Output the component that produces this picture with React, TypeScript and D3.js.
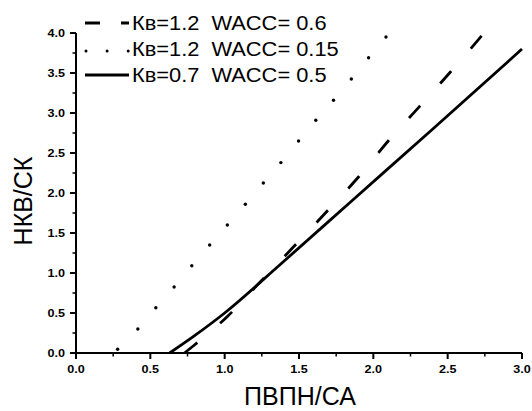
import React from 'react';
import * as d3 from 'd3';

const xTicks = [0, 0.5, 1.0, 1.5, 2.0, 2.5, 3.0];
const yTicks = [0, 0.5, 1.0, 1.5, 2.0, 2.5, 3.0, 3.5, 4.0];

const dashedX = [0.73, 0.78, 1.02, 1.23, 1.47, 1.69, 1.9, 2.1, 2.31, 2.52, 2.745];
const dashedY = [0.0, 0.075, 0.46, 0.87, 1.34, 1.775, 2.2, 2.65, 3.08, 3.515, 4.0];

const solidX = [0.63, 0.8, 1.0, 1.37, 1.86, 2.4, 3.0];
const solidY = [0.0, 0.22, 0.5, 1.1, 1.91, 2.8, 3.8];

const dottedX = [0.28, 0.416, 0.537, 0.66, 0.779, 0.899, 1.018, 1.139, 1.26, 1.378, 1.497, 1.613, 1.732, 1.852, 1.968, 2.085];
const dottedY = [0.046, 0.3, 0.566, 0.825, 1.09, 1.35, 1.6, 1.86, 2.125, 2.38, 2.65, 2.91, 3.16, 3.425, 3.69, 3.95];

const legendLabels = ['Кв=1.2  WACC= 0.6', 'Кв=1.2  WACC= 0.15', 'Кв=0.7  WACC= 0.5'];
const xTitle = 'ПВПН/СА';
const yTitle = 'НКВ/СК';

const FONT = '"Liberation Sans", Arial, sans-serif';

export default function App() {
  const x = d3.scaleLinear().domain([0, 3]).range([76, 522]);
  const y = d3.scaleLinear().domain([0, 4]).range([353, 33]);
  const line = d3.line<[number, number]>()
    .x(d => x(d[0]))
    .y(d => y(d[1]))
    .curve(d3.curveMonotoneX);

  const dashed = dashedX.map((v, i) => [v, dashedY[i]] as [number, number]);
  const solid = solidX.map((v, i) => [v, solidY[i]] as [number, number]);
  const dotted = dottedX.map((v, i) => [v, dottedY[i]] as [number, number]);

  const xMinor = d3.range(0.25, 3, 0.5);
  const yMinor = d3.range(0.25, 4, 0.5);

  const legY = [23, 49, 75];

  return (
    <svg width={532} height={411} style={{ position: 'absolute', left: 0, top: 0, background: '#fff' }}>
      <rect x={0} y={0} width={532} height={411} fill="#fff" />
      {/* series */}
      <path d={line(dashed) || ''} fill="none" stroke="#000" strokeWidth={2.8} strokeDasharray="16.5 30" />
      <path d={line(solid) || ''} fill="none" stroke="#000" strokeWidth={2.8} />
      {dotted.map((d, i) => (
        <circle key={i} cx={x(d[0])} cy={y(d[1])} r={1.7} fill="#000" />
      ))}

      {/* axes */}
      <line x1={x(0)} x2={x(3)} y1={y(0)} y2={y(0)} stroke="#000" strokeWidth={2} />
      <line x1={x(0)} x2={x(0)} y1={y(0) + 1} y2={y(4)} stroke="#000" strokeWidth={2} />
      {xTicks.map(t => (
        <g key={'xt' + t}>
          <line x1={x(t)} x2={x(t)} y1={y(0)} y2={y(0) + 6} stroke="#000" strokeWidth={2} />
          <text transform={`translate(${x(t)}, ${y(0) + 20}) scale(1.2, 1)`} textAnchor="middle" fontFamily={FONT} fontWeight="bold" fontSize={10.5}>{t.toFixed(1)}</text>
        </g>
      ))}
      {xMinor.map(t => (
        <line key={'xm' + t} x1={x(t)} x2={x(t)} y1={y(0)} y2={y(0) + 3.5} stroke="#000" strokeWidth={1.5} />
      ))}
      {yTicks.map(t => (
        <g key={'yt' + t}>
          <line x1={x(0) - 6} x2={x(0)} y1={y(t)} y2={y(t)} stroke="#000" strokeWidth={2} />
          <text transform={`translate(${x(0) - 11}, ${y(t) + 4}) scale(1.2, 1)`} textAnchor="end" fontFamily={FONT} fontWeight="bold" fontSize={10.5}>{t.toFixed(1)}</text>
        </g>
      ))}
      {yMinor.map(t => (
        <line key={'ym' + t} x1={x(0) - 3.5} x2={x(0)} y1={y(t)} y2={y(t)} stroke="#000" strokeWidth={1.5} />
      ))}

      {/* titles */}
      <text x={(x(0) + x(3)) / 2 + 1} y={405} textAnchor="middle" fontFamily={FONT} fontSize={25}>{xTitle}</text>
      <text transform={`translate(32, ${(y(0) + y(4)) / 2 + 8}) rotate(-90)`} textAnchor="middle" fontFamily={FONT} fontSize={25}>{yTitle}</text>

      {/* legend */}
      <line x1={85} x2={129} y1={legY[0]} y2={legY[0]} stroke="#000" strokeWidth={3} strokeDasharray="15 21" />
      <line x1={86} x2={129} y1={legY[1] + 2} y2={legY[1] + 2} stroke="#000" strokeWidth={3} strokeLinecap="round" strokeDasharray="0 21.1" />
      <line x1={85} x2={129} y1={legY[2]} y2={legY[2]} stroke="#000" strokeWidth={3} />
      {legendLabels.map((l, i) => (
        <text key={l} transform={`translate(132, ${legY[i] + 7}) scale(1.12, 1)`} fontFamily={FONT} fontSize={19.5} style={{ whiteSpace: 'pre' }}>{l}</text>
      ))}
    </svg>
  );
}
